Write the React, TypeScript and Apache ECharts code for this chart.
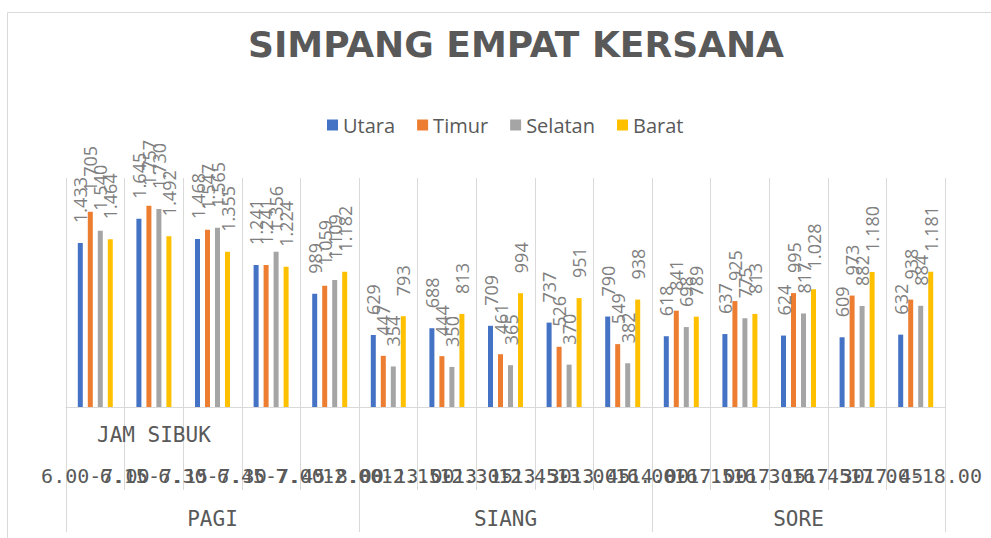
import React, { useEffect, useRef } from "react";
import * as echarts from "echarts";

const categories = [
  "6.00-7.00", "6.15-7.15", "6.30-7.30", "6.45-7.45", "7.00-8.00",
  "12.00-13.00", "12.15-13.15", "12.30-13.30", "12.45-13.45", "13.00-14.00",
  "16.00-17.00", "16.15-17.15", "16.30-17.30", "16.45-17.45", "17.00-18.00",
];
const innerLabels = ["", "JAM SIBUK", "", "", "", "", "", "", "", "", "", "", "", "", ""];
const groups = ["PAGI", "SIANG", "SORE"];

const utara = [1433, 1645, 1468, 1241, 989, 629, 688, 709, 737, 790, 618, 637, 624, 609, 632];
const timur = [1705, 1757, 1547, 1241, 1059, 447, 444, 461, 526, 549, 841, 925, 995, 973, 938];
const selatan = [1540, 1730, 1565, 1356, 1109, 354, 350, 365, 370, 382, 698, 775, 817, 882, 884];
const barat = [1464, 1492, 1355, 1224, 1182, 793, 813, 994, 951, 938, 789, 813, 1028, 1180, 1181];

const seriesNames = ["Utara", "Timur", "Selatan", "Barat"];
const seriesColors = ["#4472C4", "#ED7D31", "#A5A5A5", "#FFC000"];

const fmt = (v: number) =>
  v >= 1000 ? `${Math.floor(v / 1000)}.${String(v % 1000).padStart(3, "0")}` : String(v);

export default function App() {
  const ref = useRef<HTMLDivElement>(null);
  useEffect(() => {
    if (!ref.current) return;
    const chart = echarts.init(ref.current, null, { renderer: "svg" });
    const data = [utara, timur, selatan, barat];
    const mono = "DejaVu Sans Mono";
    chart.setOption({
      animation: false,
      backgroundColor: "#ffffff",
      title: {
        text: "SIMPANG EMPAT KERSANA",
        left: 243,
        top: 21,
        textStyle: {
          fontFamily: "DejaVu Sans",
          fontWeight: "bold",
          fontSize: 36,
          color: "#595959",
        },
      },
      legend: {
        data: seriesNames,
        left: 322,
        top: 110,
        itemWidth: 11,
        itemHeight: 11,
        itemGap: 22,
        icon: "rect",
        textStyle: { fontFamily: "Open Sans", fontSize: 20, color: "#595959" },
      },
      graphic: [
        {
          type: "rect",
          shape: { x: 7.5, y: 12.5, width: 1200, height: 800 },
          style: { fill: "none", stroke: "#d9d9d9", lineWidth: 1 },
          silent: true,
        },
      ],
      grid: { left: 66, right: 46, top: 178, bottom: 131 },
      xAxis: [
        {
          type: "category",
          position: "bottom",
          data: categories,
          axisLine: { show: true, lineStyle: { color: "#d9d9d9" } },
          axisTick: { show: true, length: 83, lineStyle: { color: "#d9d9d9" } },
          splitLine: { show: true, interval: 0, lineStyle: { color: "#d9d9d9" } },
          axisLabel: {
            interval: 0,
            margin: 59,
            fontFamily: mono,
            fontSize: 20,
            color: "#595959",
            hideOverlap: false,
          },
        },
        {
          type: "category",
          position: "bottom",
          data: groups,
          axisLine: { show: false },
          axisTick: { show: true, length: 125, lineStyle: { color: "#d9d9d9" } },
          axisLabel: {
            interval: 0,
            margin: 101,
            fontFamily: mono,
            fontSize: 21,
            color: "#595959",
          },
        },
        {
          type: "category",
          position: "bottom",
          data: innerLabels,
          axisLine: { show: false },
          axisTick: { show: false },
          axisLabel: {
            interval: 0,
            margin: 17,
            fontFamily: mono,
            fontSize: 21,
            color: "#595959",
          },
        },
      ],
      yAxis: {
        type: "value",
        min: 0,
        max: 2000,
        show: false,
        splitLine: { show: false },
      },
      series: seriesNames.map((name, i) => ({
        name,
        type: "bar",
        xAxisIndex: 0,
        data: data[i],
        barWidth: 5,
        barGap: "100%",
        itemStyle: { color: seriesColors[i] },
        label: {
          show: true,
          position: "top",
          rotate: 90,
          align: "left",
          verticalAlign: "middle",
          distance: 20,
          fontFamily: "Open Sans",
          fontSize: 18,
          color: "#7f7f7f",
          formatter: (p: any) => fmt(p.value),
        },
      })),
    });
    return () => chart.dispose();
  }, []);
  return <div ref={ref} style={{ width: 991, height: 538, position: "absolute", left: 0, top: 0 }} />;
}
